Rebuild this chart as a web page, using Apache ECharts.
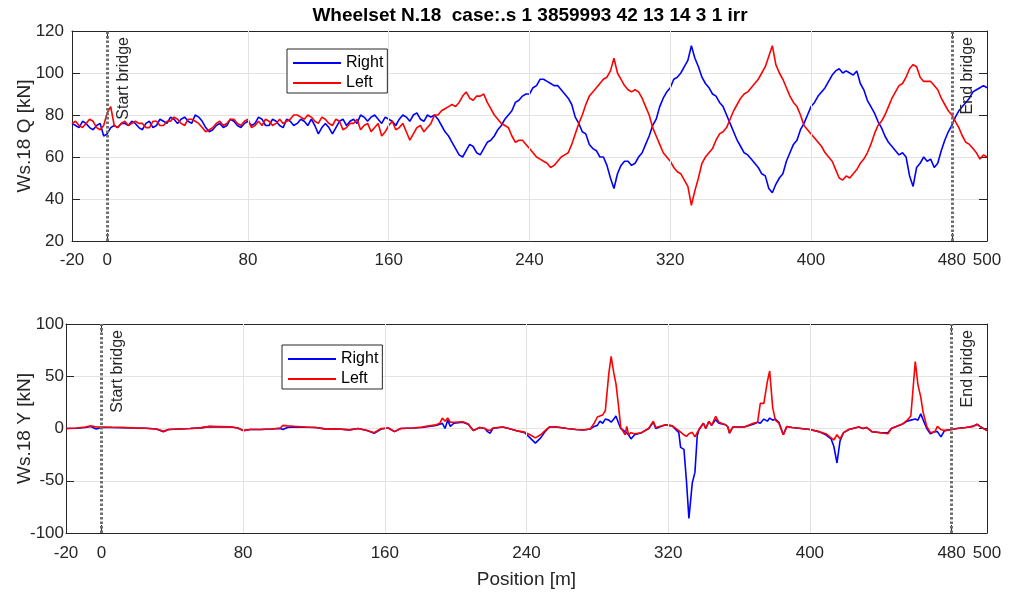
<!DOCTYPE html>
<html><head><meta charset="utf-8">
<script src="https://cdn.jsdelivr.net/npm/echarts@6/dist/echarts.min.js"></script>
<style>html,body{margin:0;padding:0;background:#fff}#c{width:1012px;height:596px}</style>
</head><body><div id="c"></div>
<script>
// ---------------- data ----------------
const titleText = 'Wheelset N.18  case:.s 1 3859993 42 13 14 3 1 irr';
const seriesNames = ['Right', 'Left'];
const xTickValues = [-20, 0, 80, 160, 240, 320, 400, 480, 500];
const xGridValues = [80, 160, 240, 320, 400];
const bridgePositions = [0, 480];
const bridgeLabels = ['Start bridge', 'End bridge'];

// Q force (top panel), sampled every 2 m from -20 m
const qStart = -20, qStep = 2;
const qRight = [
  76,75,74,77,76,74,73,75,76,70,
  71,74,75,74,76,76,75,77,76,74,
  73,76,77,74,75,78,77,76,79,78,
  76,78,79,77,76,80,79,77,74,72,
  73,75,76,74,75,78,77,75,74,76,
  77,75,76,79,78,75,75,78,77,75,
  74,78,77,75,76,78,77,75,78,75,
  71,74,76,74,71,74,77,78,75,77,
  78,76,80,79,77,79,80,78,76,79,
  78,77,75,78,80,79,77,80,81,78,
  77,80,79,80,78,75,72,70,67,64,
  61,60,63,66,65,62,61,64,67,68,
  70,73,75,78,80,82,86,87,89,90,
  90,93,94,97,97,96,95,94,94,92,
  90,88,85,79,76,72,71,66,64,63,
  60,60,56,50,45,52,56,58,58,56,
  57,60,62,66,70,75,78,84,88,91,
  93,97,98,100,103,106,113,107,103,98,
  95,93,90,89,86,84,80,76,72,68,
  65,62,61,59,57,55,52,51,45,43,
  47,50,52,58,62,66,68,73,76,80,
  84,86,89,91,93,96,99,101,102,100,
  101,100,99,101,95,92,87,84,81,77,
  74,70,67,65,63,61,62,60,51,46,
  55,57,60,58,59,55,57,63,68,72,
  75,79,82,84,86,88,91,92,93,94,
  93];
const qLeft = [
  76,77,75,74,76,78,77,74,73,75,
  81,84,75,74,76,77,75,76,77,76,
  76,74,74,77,77,75,75,77,77,79,
  78,76,75,78,78,77,76,74,72,73,
  74,76,77,75,76,78,78,76,75,77,
  78,74,75,77,75,78,77,75,76,78,
  76,77,78,80,80,79,78,80,79,77,
  76,79,78,76,75,78,77,73,74,76,
  76,78,73,75,76,72,74,76,70,72,
  75,77,73,74,76,72,68,71,74,75,
  72,74,76,80,80,82,83,84,85,84,
  86,89,91,88,87,89,89,90,86,83,
  80,78,76,75,74,70,67,68,68,66,
  64,62,60,59,58,57,55,56,58,60,
  61,62,66,71,76,80,85,89,91,93,
  95,97,98,101,107,100,97,94,92,91,
  92,91,88,84,80,74,70,66,62,60,
  58,55,53,52,49,46,37,44,50,57,
  60,62,64,68,71,72,74,78,82,85,
  88,90,91,93,95,97,100,103,108,113,
  104,100,97,93,89,86,84,80,75,73,
  71,69,67,65,62,60,58,54,50,49,
  51,50,52,54,57,59,62,66,71,75,
  77,80,84,88,91,94,95,98,102,104,
  103,98,96,96,96,94,92,88,85,82,
  80,77,74,70,67,66,64,62,59,61,
  60];

// Y force (bottom panel), sampled at these positions [m]
const yPos = [-20,-14,-9,-6,-3,0,6,12,18,25,31,35,38,44,50,56,61,67,73,77,80,84,90,96,101,102.5,103.5,105,109,115,121,127,134,140,145,150,154,158,162,165.5,169,176,181,185,189,191,192.5,194,195.5,197,199,204,207,210,213.5,216.5,218,219.5,221,226.5,230,234,239,242,245,248,250.5,253,257,263,268,272,276,278.2,280,281.5,283,284.5,286.5,287.8,289.3,290.5,292,293.2,295.7,296.6,297.6,299,301,305,309,311.6,313,318.5,322.3,326,327,328.9,330.3,331.7,333.6,335.1,336.4,337.4,339.9,341.2,343,344.5,346.8,348.6,352.4,353.7,354.6,356.5,363,368,370.5,372,374,376,377.3,379,380.5,382.5,385,387,390,395,400,405,409,412,413.5,415.3,417,419,422,427.6,430,432,435,440,444,446,452,455,457,459.5,461,462.6,464,466,468,470.6,472,474,476,480,483,488,492,494.5,496,500];
const yRight = [0,0.3,1,2,-0.5,1,1,0.8,0.5,0.2,-0.5,-3,-1,-0.5,0,0.6,1.8,1.5,1.5,0.5,-2,-1,-1,-0.5,0,-1,-2.5,1,1.5,1.2,1,-0.6,-0.5,-1.3,0,-2,-4.5,-0.5,0.5,-3,0,0.5,1,2,3,4,5,0,8,2,5,6,4,-2,1,0,-3,-4.5,0,1.5,0,-2,-4,-9,-14,-9,-3,1.5,1.5,0,-1,-1.5,-0.5,2,3,7,5,9,8,6,9,12,5,0,-3,-2,-6,-10,-6,-4,0,6,0,3.5,2.5,-4,-18,-20,-50,-86,-52,-42,-7,-1,5,0,6.8,3,8.5,5,3.6,1.4,-4.3,1.4,1.4,4,6,5,9,7,10,8,9,6,-6,2,1,0,-1,-3,-6,-10,-17,-33,-12,-4,-1,1.5,0,1,-3,-4,-4,0,4,7,8,9,8,14,8,0,-5,-3,-3,-8,-2,-1,0,1,2,4,2,-2];
const yLeft = [0,0.5,1.5,2.5,1.5,1.5,1.2,1,0.6,0.2,-0.5,-2.5,-1,-0.5,0,0.6,2,1.8,1.6,0.5,-2,-1,-1,-0.5,0.5,3,4.5,2.5,2,1.5,1,-0.6,-0.5,-1.3,0,-2,-4,0,0.5,-3,0,0.5,1.5,2.5,3.5,5,10,7,10,6,6,6.5,4.5,-2,1,0,-1.5,-2,0.5,1.5,0,-2,-3.5,-6,-9,-6,-2,1.5,1.5,0,-1,-1.5,-0.5,5,11,12,13,17,53,69,53,43,21,1,-6,2,-6,-4,-5,-4,0,7,1,3.5,2.5,-2,-3,-6,-7.5,-5,-3.7,-8,-4,-1,5,0,6.8,3,11.6,6,3.6,1.4,-4.3,1.4,1.4,5,6,24,24,45,55,20,8,5,-6,2,1,0,-1,-3,-5,-9,-11,-6,-10,-4,-1,1.5,0,1,-3,-4,-5,0,4,8,12,64,42,30,15,2,-4,-3,2,-1,-2,-1,0,1,2,4,2,-2];

// ---------------- build ----------------
const qPos = qRight.map((_, i) => qStart + i * qStep);
const zip = (xs, ys) => xs.map((x, i) => [x, ys[i]]);
const TXT = '#262626';
const FONT = '"Liberation Sans", Arial, Helvetica, sans-serif';
const COLORS = ['#0000ff', '#ff0000'];

function xAxes(gi, labelMargin, name) {
  const base = {
    gridIndex: gi, type: 'value', min: -20, max: 500,
    axisLine: { show: true, onZero: false, lineStyle: { color: TXT, width: 1 } },
    axisTick: { show: true, inside: true, length: 8, customValues: xTickValues, lineStyle: { color: TXT } },
    splitLine: { show: false }
  };
  return [
    Object.assign({}, base, {
      position: 'bottom',
      axisLabel: { customValues: xTickValues, color: TXT, fontSize: 17, margin: labelMargin, fontFamily: FONT },
      name: name || '', nameLocation: 'middle', nameGap: 37, nameMoveOverlap: false,
      nameTextStyle: { color: TXT, fontSize: 19, fontFamily: FONT }
    }),
    Object.assign({}, base, { position: 'top', axisLabel: { show: false } })
  ];
}
function yAxes(gi, min, max, interval, name, labelMargin, nameGap) {
  const base = {
    gridIndex: gi, type: 'value', min, max, interval,
    axisLine: { show: true, onZero: false, lineStyle: { color: TXT, width: 1 } },
    axisTick: { show: true, inside: true, length: 8, lineStyle: { color: TXT } }
  };
  return [
    Object.assign({}, base, {
      position: 'left',
      axisLabel: { color: TXT, fontSize: 17, margin: labelMargin, fontFamily: FONT },
      splitLine: { show: true, lineStyle: { color: '#e3e3e3', width: 1 } },
      name, nameLocation: 'middle', nameRotate: 90, nameGap, nameMoveOverlap: false,
      nameTextStyle: { color: TXT, fontSize: 19, fontFamily: FONT }
    }),
    Object.assign({}, base, { position: 'right', axisLabel: { show: false }, splitLine: { show: false } })
  ];
}
function helperSeries(gi) {
  return [
    { type: 'line', xAxisIndex: gi * 2, yAxisIndex: gi * 2, data: [], z: 1, silent: true,
      markLine: { silent: true, symbol: ['none', 'none'], label: { show: false },
        lineStyle: { color: '#e3e3e3', type: 'solid', width: 1 },
        data: xGridValues.map(v => ({ xAxis: v })) } },
    { type: 'line', xAxisIndex: gi * 2, yAxisIndex: gi * 2, data: [], z: 2, silent: true,
      markLine: { silent: true, symbol: ['none', 'none'],
        label: { show: true, position: 'insideEndBottom', color: TXT, fontSize: 16, fontFamily: FONT,
                 formatter: p => p.name, distance: [6, 8] },
        data: bridgePositions.map((v, i) => ({ xAxis: v, name: bridgeLabels[i],
          lineStyle: { color: '#707070', type: [2.5, 2], width: 3, opacity: 1 } })) } }
  ];
}
function dataSeries(gi, r, l) {
  return [r, l].map((d, k) => ({
    name: seriesNames[k], type: 'line', xAxisIndex: gi * 2, yAxisIndex: gi * 2,
    data: d, showSymbol: false, symbol: 'none', z: 3 + k,
    lineStyle: { color: COLORS[k], width: 1.6 }, itemStyle: { color: COLORS[k] }
  }));
}
function legend(left, top) {
  return {
    orient: 'vertical', left, top, icon: 'rect', itemWidth: 48, itemHeight: 2, itemGap: 4,
    padding: [6, 4, 2, 6], borderColor: TXT, borderWidth: 1, backgroundColor: '#fff',
    selectedMode: false, data: seriesNames,
    textStyle: { fontSize: 16, color: '#000', fontFamily: FONT, lineHeight: 16 }
  };
}

const option = {
  animation: false,
  backgroundColor: '#fff',
  textStyle: { fontFamily: FONT },
  title: { text: titleText, left: 530, top: 6, textAlign: 'center', padding: 0,
    textStyle: { fontSize: 19, fontWeight: 'bold', color: '#000', fontFamily: FONT } },
  grid: [
    { left: 72, right: 25, top: 31, height: 210, containLabel: false, outerBoundsMode: 'none' },
    { left: 66, right: 25, top: 324, height: 209, containLabel: false, outerBoundsMode: 'none' }
  ],
  legend: [legend(287, 49), legend(282, 345)],
  xAxis: [...xAxes(0, 11), ...xAxes(1, 12, 'Position [m]')],
  yAxis: [...yAxes(0, 20, 120, 20, 'Ws.18 Q [kN]', 8, 38), ...yAxes(1, -100, 100, 50, 'Ws.18 Y [kN]', 2, 32)],
  series: [
    ...helperSeries(0), ...helperSeries(1),
    ...dataSeries(0, zip(qPos, qRight), zip(qPos, qLeft)),
    ...dataSeries(1, zip(yPos, yRight), zip(yPos, yLeft))
  ]
};
const chart = echarts.init(document.getElementById('c'));
chart.setOption(option);
</script></body></html>
